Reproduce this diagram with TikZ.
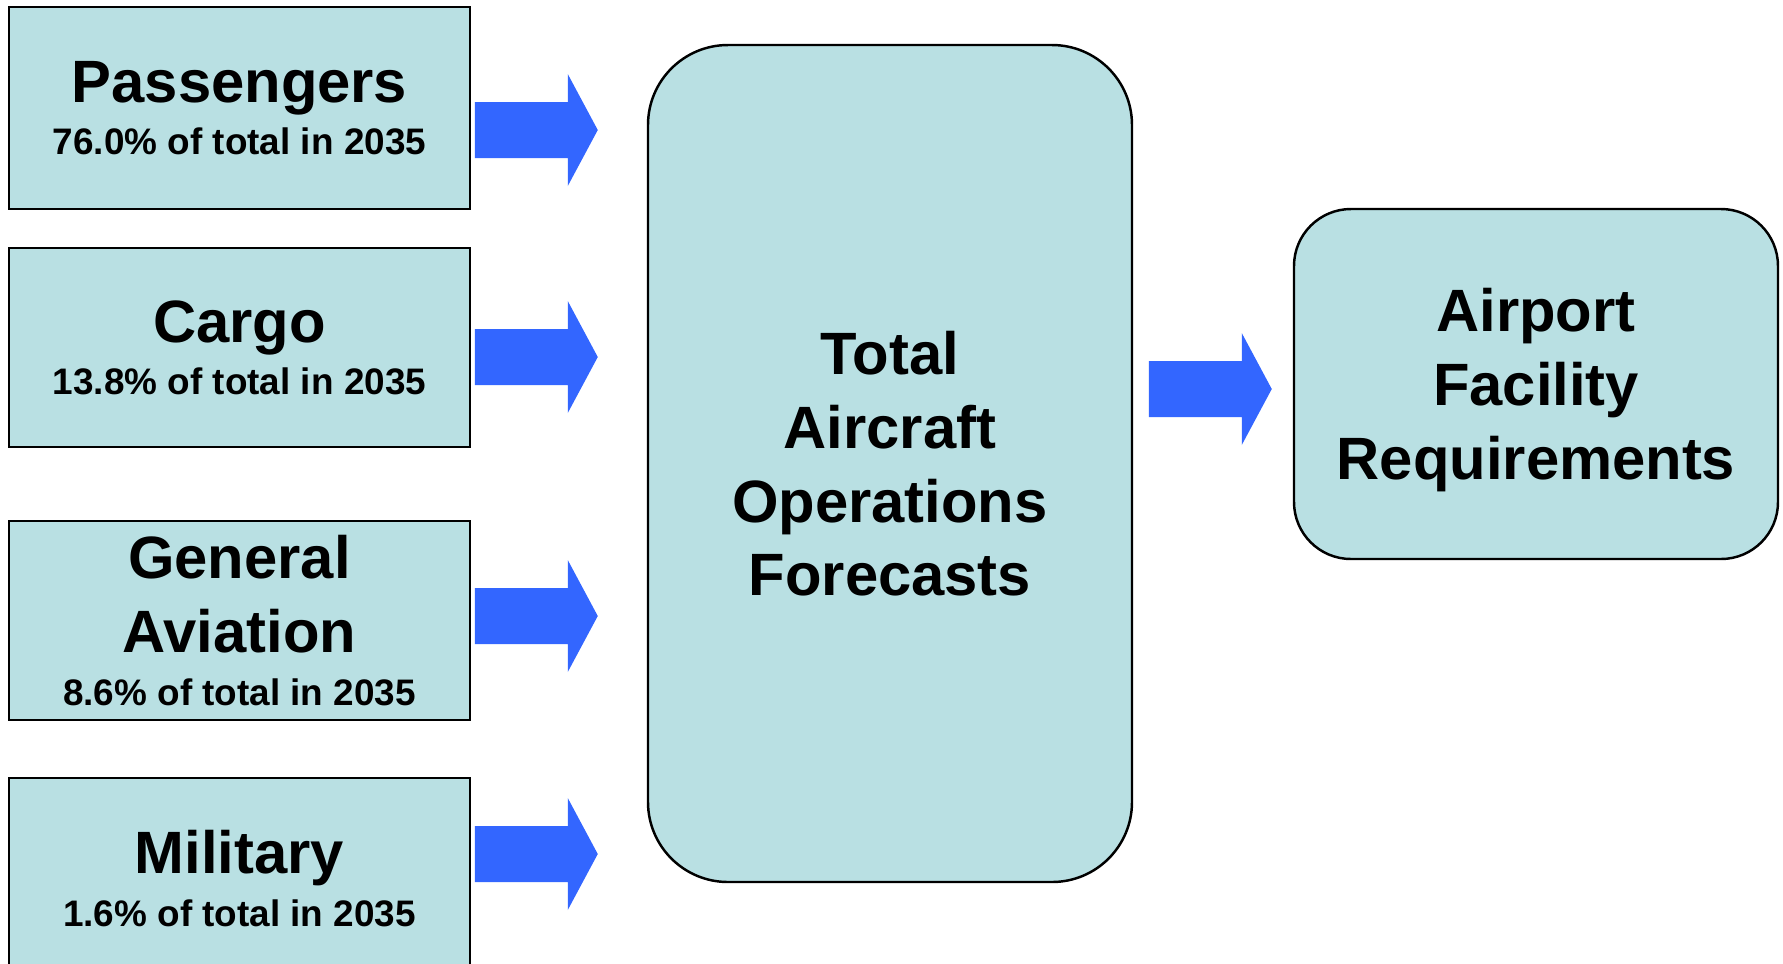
\documentclass[tikz,border=0pt]{standalone}
\usepackage{fontspec}
\setmainfont{Liberation Sans}
\usetikzlibrary{shapes,arrows,positioning,calc}

\definecolor{boxfill}{RGB}{185,224,227}
\definecolor{flowblue}{RGB}{51,102,255}
\newcommand{\bigtxt}{\fontsize{17}{21}\selectfont\bfseries}
\newcommand{\smalltxt}{\fontsize{10.5}{13}\selectfont\bfseries}
% fat block arrow, drawn back from its tip
\newcommand{\blockarrow}[1]{\fill[flowblue] (#1) -- ++(-0.30,0.56) -- ++(0,-0.28) -- ++(-0.93,0) -- ++(0,-0.56) -- ++(0.93,0) -- ++(0,-0.28) -- cycle;}

\begin{document}
\begin{tikzpicture}[
  srcbox/.style={draw,line width=0.7pt,fill=boxfill,minimum width=4.61cm,minimum height=1.99cm,align=center,font=\bigtxt,inner sep=0pt,text depth=-2.5pt},
  hubbox/.style={draw,line width=0.7pt,fill=boxfill,minimum width=4.84cm,align=center,font=\bigtxt,inner sep=0pt,text depth=0pt}
]
\useasboundingbox (0,0) rectangle (17.83,-9.63);

% sources of demand
\node[srcbox,minimum height=2.02cm] (pass) at (2.395,-1.08) {Passengers\\[-6pt]{\smalltxt 76.0\% of total in 2035}};
\node[srcbox] (cargo) at (2.395,-3.475) {Cargo\\[-6pt]{\smalltxt 13.8\% of total in 2035}};
\node[srcbox] (genav) at (2.395,-6.205) {General\\Aviation\\[-6pt]{\smalltxt 8.6\% of total in 2035}};
\node[srcbox,minimum height=2cm] (mil) at (2.395,-8.78) {Military\\[-6pt]{\smalltxt 1.6\% of total in 2035}};

% forecast and requirements
\node[hubbox,minimum height=8.37cm,rounded corners=0.8cm] (ops) at (8.90,-4.635) {Total\\Aircraft\\Operations\\Forecasts};
\node[hubbox,minimum height=3.5cm,rounded corners=0.57cm] (req) at (15.36,-3.84) {Airport\\Facility\\Requirements};

% arrow tips, just short of the forecast boxes
\coordinate (t1) at ($(ops.west)+(-0.49,3.335)$);
\coordinate (t2) at ($(ops.west)+(-0.49,1.065)$);
\coordinate (t3) at ($(ops.west)+(-0.49,-1.525)$);
\coordinate (t4) at ($(ops.west)+(-0.49,-3.905)$);
\coordinate (t5) at ($(req.west)+(-0.21,-0.05)$);

\blockarrow{t1}
\blockarrow{t2}
\blockarrow{t3}
\blockarrow{t4}
\blockarrow{t5}

\end{tikzpicture}
\end{document}
